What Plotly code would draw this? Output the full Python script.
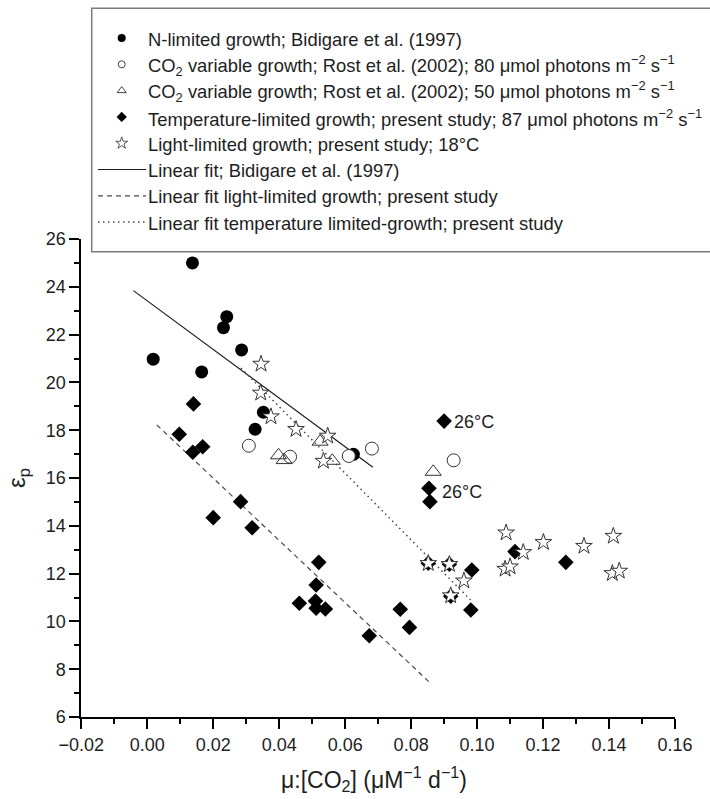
import plotly.graph_objects as go

# ---- data ----
n_lim_x = [0.0137, 0.0241, 0.0231, 0.0286, 0.0018, 0.0165, 0.0352, 0.0327, 0.0625]
n_lim_y = [25.0, 22.75, 22.29, 21.36, 20.97, 20.44, 18.75, 18.04, 16.99]

co2_80_x = [0.0308, 0.0433, 0.0611, 0.0681, 0.0929]
co2_80_y = [17.35, 16.89, 16.92, 17.23, 16.74]

co2_50_x = [0.0398, 0.0415, 0.0524, 0.0561, 0.0867]
co2_50_y = [16.95, 16.75, 17.52, 16.72, 16.26]

temp_x = [0.0140, 0.0097, 0.0168, 0.0138, 0.0283, 0.0200, 0.0318, 0.0520, 0.0512,
          0.0461, 0.0510, 0.0512, 0.0540, 0.0673, 0.0767, 0.0900, 0.0854, 0.0857,
          0.0795, 0.0852, 0.0916, 0.0984, 0.0920, 0.0981, 0.1115, 0.1269]
temp_y = [19.10, 17.83, 17.31, 17.08, 15.01, 14.34, 13.92, 12.47, 11.52,
          10.76, 10.85, 10.55, 10.52, 9.40, 10.51, 18.38, 15.57, 15.01,
          9.75, 12.43, 12.39, 12.15, 11.05, 10.48, 12.92, 12.47]

light_x = [0.0345, 0.0344, 0.0375, 0.0451, 0.0547, 0.0534, 0.0852, 0.0916, 0.0920,
           0.0960, 0.1088, 0.1140, 0.1085, 0.1100, 0.1201, 0.1324, 0.1413, 0.1410, 0.1431]
light_y = [20.77, 19.56, 18.57, 18.04, 17.76, 16.71, 12.43, 12.39, 11.08,
           11.70, 13.71, 12.89, 12.19, 12.29, 13.31, 13.15, 13.57, 12.01, 12.11]

fit_bidigare_x = [-0.0042, 0.0684]
fit_bidigare_y = [23.84, 16.45]
fit_light_x = [0.0029, 0.0862]
fit_light_y = [18.22, 7.37]
fit_temp_x = [0.0284, 0.0980]
fit_temp_y = [20.60, 10.90]

notes_x = [0.0924, 0.0886]
notes_y = [18.36, 15.43]
notes_text = ["26°C", "26°C"]

x_ticks = [-0.02, 0.00, 0.02, 0.04, 0.06, 0.08, 0.10, 0.12, 0.14, 0.16]
y_ticks = [6, 8, 10, 12, 14, 16, 18, 20, 22, 24, 26]

x_title = "μ:[CO<sub>2</sub>] (μM<sup>−1</sup> d<sup>−1</sup>)"
y_title = "ε<sub>p</sub>"

legend_names = [
    "N-limited growth; Bidigare et al. (1997)",
    "CO<sub>2</sub> variable growth; Rost et al. (2002); 80 μmol photons m<sup>−2</sup> s<sup>−1</sup>",
    "CO<sub>2</sub> variable growth; Rost et al. (2002); 50 μmol photons m<sup>−2</sup> s<sup>−1</sup>",
    "Temperature-limited growth; present study; 87 μmol photons m<sup>−2</sup> s<sup>−1</sup>",
    "Light-limited growth; present study; 18°C",
    "Linear fit; Bidigare et al. (1997)",
    "Linear fit light-limited growth; present study",
    "Linear fit temperature limited-growth; present study",
]

# ---- layout constants (pixels) ----
W, H = 710, 799
PX_L, PX_R, PX_T, PX_B = 81.3, 675.0, 239.0, 717.0
FONT = "Liberation Sans, Arial, sans-serif"
TXT = "#1e1e1e"

fig = go.Figure()

# ---- fit lines ----
line_bid = dict(color="#1e1e1e", width=1.2)
line_light = dict(color="#4a4a4a", width=1.2, dash="5px,4px")
line_temp = dict(color="#4a4a4a", width=1.5, dash="1.5px,3.5px")
fig.add_trace(go.Scatter(x=fit_bidigare_x, y=fit_bidigare_y, mode="lines", line=line_bid))
fig.add_trace(go.Scatter(x=fit_light_x, y=fit_light_y, mode="lines", line=line_light))
fig.add_trace(go.Scatter(x=fit_temp_x, y=fit_temp_y, mode="lines", line=line_temp))

# ---- data markers ----
mk_nlim = dict(symbol="circle", size=13, color="black")
mk_80 = dict(symbol="circle", size=13, color="white", line=dict(color="#333", width=1))
mk_50 = dict(symbol="triangle-up-open", size=14, color="#333", line=dict(color="#333", width=1))
mk_temp = dict(symbol="diamond", size=12, color="black")
mk_light = dict(symbol="star", size=12.5, color="white", line=dict(color="#333", width=1))
fig.add_trace(go.Scatter(x=n_lim_x, y=n_lim_y, mode="markers", marker=mk_nlim))
fig.add_trace(go.Scatter(x=co2_80_x, y=co2_80_y, mode="markers", marker=mk_80))
fig.add_trace(go.Scatter(x=co2_50_x, y=co2_50_y, mode="markers", marker=mk_50))
fig.add_trace(go.Scatter(x=temp_x, y=temp_y, mode="markers", marker=mk_temp))
fig.add_trace(go.Scatter(x=light_x, y=light_y, mode="markers", marker=mk_light))

for tx, ty, tt in zip(notes_x, notes_y, notes_text):
    fig.add_annotation(x=tx, y=ty, xref="x", yref="y", text=tt, showarrow=False,
                       xanchor="left", yanchor="middle",
                       font=dict(size=18, color=TXT, family=FONT))

# ---- custom legend on a pixel-coordinate overlay axis ----
row0, row_step = 38.0, 26.3
sym_x, line_x0, line_x1, text_x = 121.7, 98.0, 146.0, 146.0
leg_mk = [
    dict(symbol="circle", size=8, color="black"),
    dict(symbol="circle", size=7, color="white", line=dict(color="#444", width=1)),
    dict(symbol="triangle-up-open", size=8, color="#444", line=dict(color="#444", width=1)),
    dict(symbol="diamond", size=8, color="black"),
    dict(symbol="star", size=9, color="white", line=dict(color="#444", width=0.9)),
]
leg_ln = [line_bid, line_light, line_temp]
for i, name in enumerate(legend_names):
    ry = row0 + i * row_step
    if i < 5:
        fig.add_trace(go.Scatter(x=[sym_x], y=[ry], mode="markers", marker=leg_mk[i],
                                 xaxis="x2", yaxis="y2", cliponaxis=False))
    else:
        fig.add_trace(go.Scatter(x=[line_x0, line_x1], y=[ry, ry], mode="lines",
                                 line=leg_ln[i - 5], xaxis="x2", yaxis="y2"))
    fig.add_annotation(x=text_x, y=ry + 1, xref="x2", yref="y2", text=name,
                       showarrow=False, xanchor="left", yanchor="middle",
                       font=dict(size=18.4, color=TXT, family=FONT))

# ---- axis titles (placed in pixel coordinates) ----
fig.add_annotation(x=374, y=779, xref="x2", yref="y2", text=x_title, showarrow=False,
                   xanchor="center", yanchor="middle",
                   font=dict(size=23, color=TXT, family=FONT))
fig.add_annotation(x=18, y=478, xref="x2", yref="y2", text=y_title, showarrow=False,
                   textangle=-90, xanchor="center", yanchor="middle",
                   font=dict(size=24, color=TXT, family=FONT))

axis_common = dict(showline=True, linecolor="black", linewidth=2, ticks="outside",
                   ticklen=10, tickwidth=1.5, tickcolor="black", showgrid=False,
                   zeroline=False, automargin=False,
                   tickfont=dict(size=18, color=TXT, family=FONT))

fig.update_layout(
    width=W, height=H,
    margin=dict(l=0, r=0, t=0, b=0, pad=0, autoexpand=False),
    paper_bgcolor="white", plot_bgcolor="rgba(0,0,0,0)",
    font=dict(family=FONT, color=TXT),
    showlegend=False,
    xaxis=dict(domain=[PX_L / W, PX_R / W], anchor="y",
               range=[-0.02, 0.16], tickvals=x_ticks, tickformat=".2f",
               minor=dict(dtick=0.01, tick0=0, ticks="outside", ticklen=5,
                          tickwidth=1.5, tickcolor="black"),
               **axis_common),
    yaxis=dict(domain=[1 - PX_B / H, 1 - PX_T / H], anchor="x",
               range=[6, 26], tickvals=y_ticks,
               minor=dict(dtick=1, tick0=0, ticks="outside", ticklen=5,
                          tickwidth=1.5, tickcolor="black"),
               **axis_common),
    xaxis2=dict(domain=[0, 1], range=[0, W], anchor="y2", visible=False,
                fixedrange=True, automargin=False),
    yaxis2=dict(domain=[0, 1], range=[H, 0], anchor="x2", visible=False,
                fixedrange=True, automargin=False),
    shapes=[dict(type="rect", xref="x2", yref="y2", x0=91.7, x1=712, y0=8.3, y1=251.7,
                 line=dict(color="#7a7a7a", width=1.5), fillcolor="rgba(0,0,0,0)",
                 layer="above")],
)

fig.write_html("out.html")
